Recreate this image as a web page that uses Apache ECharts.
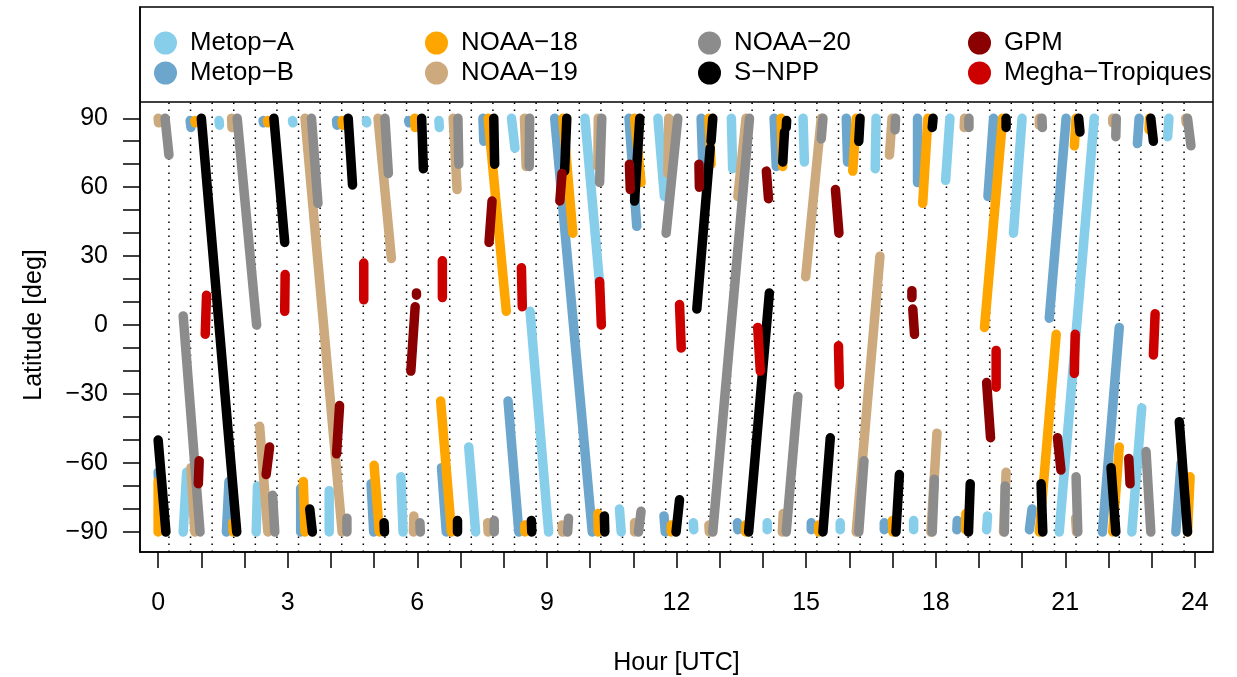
<!DOCTYPE html>
<html>
<head>
<meta charset="utf-8">
<title>Satellite overpasses</title>
<script src="https://cdn.jsdelivr.net/npm/echarts@6/dist/echarts.min.js"></script>
<style>
  html, body { margin: 0; padding: 0; background: #fff; }
  #chart { width: 1237px; height: 677px; }
</style>
</head>
<body>
<div id="chart"></div>
<script>
// one pass per row: [hour start, lat start, hour end, lat end]
const metopA = [
  [0.58, -90, 0.66, -64], [1.41, 89, 1.42, 87], [2.27, -90, 2.30, -70], [3.11, 89, 3.12, 88],
  [3.96, -90, 3.96, -72], [4.82, 89, 4.83, 88], [5.62, -66, 5.67, -90], [6.50, 89, 6.51, 86],
  [7.19, -53, 7.35, -90], [8.18, 90, 8.26, 77], [8.61, 6, 9.04, -90], [9.88, 90, 10.22, 18],
  [10.68, -80, 10.72, -90], [11.57, 90, 11.72, 56], [12.39, -86, 12.40, -89], [13.27, 90, 13.30, 68],
  [14.10, -86, 14.10, -89], [14.93, 90, 14.96, 71], [15.79, -86, 15.79, -89], [16.62, 90, 16.60, 68],
  [17.49, -85, 17.49, -89], [18.23, 63, 18.33, 90], [19.18, -89, 19.20, -83], [19.80, 40, 20.00, 90],
  [20.86, -90, 21.67, 90], [22.54, -90, 22.77, -36], [23.37, 82, 23.40, 90]
];
const metopB = [
  [0.00, -64, 0.02, -70], [0.74, 89, 0.76, 86], [1.64, -68, 1.58, -90], [2.43, 89, 2.44, 88],
  [3.30, -71, 3.30, -90], [4.13, 89, 4.14, 87], [4.93, -69, 4.99, -90], [5.80, 89, 5.81, 88],
  [6.56, -62, 6.67, -90], [7.52, 90, 7.54, 80], [8.10, -33, 8.35, -90], [9.18, 90, 10.05, -90],
  [10.90, 90, 11.08, 43], [11.71, -83, 11.74, -90], [12.57, 90, 12.61, 69], [13.41, -86, 13.42, -89],
  [14.26, 90, 14.31, 69], [15.12, -86, 15.12, -89], [15.93, 90, 15.96, 71], [16.81, -86, 16.81, -89],
  [17.58, 90, 17.58, 62], [18.50, -85, 18.49, -89], [19.21, 56, 19.34, 90], [20.17, -89, 20.23, -80],
  [20.63, 3, 21.02, 90], [21.86, -90, 22.25, -1], [22.67, 79, 22.71, 90], [23.56, -90, 23.68, -60]
];
const noaa18 = [
  [0.00, -68, 0.00, -90], [0.85, 89, 0.86, 88], [1.73, -86, 1.74, -90], [2.53, 89, 2.54, 88],
  [3.36, -68, 3.40, -90], [4.26, 89, 4.27, 87], [5.00, -61, 5.12, -90], [5.94, 90, 5.95, 86],
  [6.54, -33, 6.79, -90], [7.64, 90, 8.06, 6], [8.49, -87, 8.49, -90], [9.37, 90, 9.60, 40],
  [10.18, -82, 10.19, -90], [11.03, 90, 11.18, 62], [11.88, -87, 11.88, -90], [12.75, 90, 12.80, 70],
  [13.60, -87, 13.60, -90], [14.42, 90, 14.46, 69], [15.29, -87, 15.29, -90], [16.16, 90, 16.08, 67],
  [17.00, -85, 17.01, -90], [17.82, 90, 17.70, 53], [18.69, -89, 18.70, -82], [19.13, -1, 19.55, 90],
  [20.40, -90, 20.79, -4], [21.21, 78, 21.25, 90], [22.10, -90, 22.25, -53], [22.95, 90, 22.94, 85],
  [23.83, -90, 23.89, -66]
];
const noaa19 = [
  [0.00, 90, 0.01, 88], [0.76, -62, 0.85, -90], [1.70, 90, 1.71, 86], [2.35, -44, 2.54, -90],
  [3.40, 90, 4.26, -90], [5.09, 90, 5.40, 29], [5.92, -83, 5.91, -90], [6.83, 90, 6.92, 59],
  [7.63, -86, 7.64, -90], [8.48, 90, 8.52, 69], [9.35, -87, 9.36, -90], [10.19, 90, 10.18, 69],
  [11.03, -86, 11.03, -90], [11.82, 90, 11.80, 66], [12.75, -87, 12.76, -90], [13.42, 56, 13.61, 90],
  [14.47, -82, 14.45, -90], [14.99, 21, 15.35, 90], [16.16, -90, 16.71, 30], [16.99, 90, 16.93, 74],
  [17.89, -90, 18.03, -47], [18.67, 90, 18.66, 86], [19.57, -90, 19.63, -64], [20.40, 90, 20.40, 87],
  [21.24, -84, 21.26, -90], [22.10, 90, 22.10, 88], [23.79, 90, 23.80, 88]
];
const noaa20 = [
  [0.16, 90, 0.25, 74], [0.58, 4, 0.97, -90], [1.83, 90, 2.28, 0], [2.65, -74, 2.70, -90],
  [3.55, 90, 3.70, 53], [4.37, -84, 4.37, -90], [5.25, 90, 5.33, 66], [6.06, -86, 6.07, -90],
  [6.94, 90, 6.96, 70], [7.78, -85, 7.78, -90], [8.60, 90, 8.59, 69], [9.50, -84, 9.48, -90],
  [10.27, 90, 10.22, 62], [11.18, -81, 11.12, -90], [11.76, 40, 12.03, 90], [12.84, -90, 13.69, 90],
  [14.54, -90, 14.81, -31], [15.39, 90, 15.35, 81], [16.22, -90, 16.34, -59], [17.07, 90, 17.06, 85],
  [17.92, -90, 17.97, -67], [18.77, 90, 18.77, 86], [19.59, -90, 19.61, -70], [20.46, 90, 20.47, 86],
  [21.25, -66, 21.29, -90], [22.18, 90, 22.17, 82], [22.87, -55, 22.98, -90], [23.83, 90, 23.91, 78]
];
const snpp = [
  [0.00, -50, 0.18, -90], [1.00, 90, 1.82, -90], [2.68, 90, 2.93, 36], [3.51, -80, 3.57, -90],
  [4.40, 90, 4.50, 61], [5.23, -86, 5.24, -90], [6.10, 90, 6.14, 68], [6.93, -85, 6.93, -90],
  [7.77, 90, 7.79, 70], [8.64, -85, 8.65, -90], [9.46, 90, 9.41, 67], [10.33, -83, 10.34, -90],
  [11.15, 90, 11.03, 54], [12.07, -76, 11.99, -90], [12.47, 7, 12.78, 77], [12.84, 90, 12.80, 80],
  [13.67, -90, 14.15, 14], [14.55, 89, 14.54, 86], [14.50, 84, 14.46, 71], [15.39, -90, 15.56, -49],
  [16.25, 90, 16.22, 80], [17.08, -90, 17.16, -65], [17.94, 90, 17.92, 86], [18.76, -90, 18.80, -69],
  [19.63, 90, 19.63, 86], [20.48, -90, 20.44, -69], [21.31, 90, 21.34, 84], [22.06, -62, 22.17, -90],
  [22.98, 90, 23.04, 80], [23.64, -42, 23.83, -90]
];
const gpm = [
  [0.95, -59, 0.93, -69], [2.58, -53, 2.50, -65], [4.20, -35, 4.13, -56], [5.98, 14, 5.98, 13],
  [5.95, 8, 5.85, -20], [7.73, 54, 7.66, 36], [9.35, 66, 9.30, 54], [10.91, 70, 10.93, 59],
  [12.52, 70, 12.53, 60], [14.08, 67, 14.13, 55], [15.68, 59, 15.76, 40], [17.45, 15, 17.45, 12],
  [17.47, 7, 17.51, -4], [19.18, -25, 19.27, -49], [20.82, -49, 20.90, -63], [22.47, -58, 22.50, -69]
];
const megha = [
  [1.12, 13, 1.09, -4], [2.94, 22, 2.93, 6], [4.76, 27, 4.76, 11], [6.58, 28, 6.58, 12],
  [8.41, 25, 8.43, 8], [10.22, 19, 10.26, 0], [12.07, 9, 12.11, -10], [13.88, -1, 13.94, -20],
  [15.75, -9, 15.77, -26], [19.40, -11, 19.40, -27], [21.21, -21, 21.23, -4], [23.04, -13, 23.08, 5]
];

const satNames = ['Metop-A', 'Metop-B', 'NOAA-18', 'NOAA-19', 'NOAA-20', 'S-NPP', 'GPM', 'Megha-Tropiques'];
const satPasses = [metopA, metopB, noaa18, noaa19, noaa20, snpp, gpm, megha];
const satColors = ['#87CEEB', '#6CA6CD', '#FFA500', '#CDAA7D', '#8C8C8C', '#000000', '#8B0000', '#CD0000'];

const hourTicks = [0, 1, 2, 3, 4, 5, 6, 7, 8, 9, 10, 11, 12, 13, 14, 15, 16, 17, 18, 19, 20, 21, 22, 23, 24];
const hourLabels = [0, 3, 6, 9, 12, 15, 18, 21, 24];
const latTicks = [-90, -80, -70, -60, -50, -40, -30, -20, -10, 0, 10, 20, 30, 40, 50, 60, 70, 80, 90];
const latLabels = [-90, -60, -30, 0, 30, 60, 90];
// dotted guides every half hour, offset by a quarter hour
const guideHours = Array.from({ length: 48 }, (_, i) => 0.25 + i * 0.5);

const yMin = -98.7, yMax = 138.4, legendLine = 97;
const font = 'Liberation Sans, Arial, Helvetica, sans-serif';
const minus = s => String(s).replace('-', '\u2212');

// break the polyline between passes
function passData(passes) {
  const out = [];
  passes.forEach(p => {
    out.push([p[0], p[1]], [p[2], p[3]], [p[2], '-']);
  });
  return out;
}

const guideData = [];
guideHours.forEach(h => {
  guideData.push([h, yMin], [h, legendLine], [h, '-']);
});

const chart = echarts.init(document.getElementById('chart'), null, { renderer: 'canvas' });

const legendLeft = [154, 425, 698, 968];
const legendTop = [30, 60];
const legends = satNames.map((name, i) => ({
  data: [name],
  left: legendLeft[Math.floor(i / 2)],
  top: legendTop[i % 2],
  padding: 0,
  icon: 'circle',
  itemWidth: 23,
  itemHeight: 23,
  itemGap: 0,
  selectedMode: true,
  formatter: minus,
  textStyle: { fontSize: 25.8, color: '#000', fontFamily: font, padding: [0, 0, 0, 8] }
}));

const series = [{
  name: 'guides',
  type: 'line',
  data: guideData,
  symbol: 'none',
  silent: true,
  animation: false,
  lineStyle: { color: '#000', width: 1.5, type: [1.5, 5.5] },
  markLine: {
    silent: true,
    symbol: 'none',
    animation: false,
    label: { show: false },
    lineStyle: { color: '#000', width: 1.5, type: 'solid' },
    data: [{ yAxis: legendLine }]
  }
}];
satNames.forEach((name, i) => {
  series.push({
    name: name,
    type: 'line',
    data: passData(satPasses[i]),
    symbol: 'none',
    showSymbol: false,
    animation: false,
    itemStyle: { color: satColors[i] },
    lineStyle: { color: satColors[i], width: 9.5, cap: 'round', join: 'round' }
  });
});

const option = {
  backgroundColor: '#fff',
  textStyle: { fontFamily: font },
  animation: false,
  grid: {
    show: true, borderColor: '#000', borderWidth: 1.5,
    left: 140, top: 7, width: 1073, height: 545,
    outerBoundsMode: 'none'
  },
  legend: legends,
  xAxis: {
    type: 'value',
    min: -0.42,
    max: 24.42,
    name: 'Hour [UTC]',
    nameLocation: 'middle',
    nameGap: 99,
    nameTextStyle: { fontSize: 25, color: '#000', fontFamily: font },
    axisLine: { show: true, onZero: false, lineStyle: { color: '#000', width: 1.5 } },
    axisTick: { show: true, customValues: hourTicks, length: 16, lineStyle: { color: '#000', width: 1.5 } },
    axisLabel: { customValues: hourLabels, fontSize: 25, color: '#000', margin: 39, fontFamily: font },
    splitLine: { show: false }
  },
  yAxis: {
    type: 'value',
    min: yMin,
    max: yMax,
    axisLine: { show: true, onZero: false, lineStyle: { color: '#000', width: 1.5 } },
    axisTick: { show: true, customValues: latTicks, length: 17, lineStyle: { color: '#000', width: 1.5 } },
    axisLabel: { customValues: latLabels, fontSize: 25, color: '#000', margin: 32, formatter: minus, fontFamily: font },
    splitLine: { show: false }
  },
  graphic: [{
    type: 'text',
    x: 34,
    y: 325,
    rotation: Math.PI / 2,
    style: {
      text: 'Latitude [deg]',
      fontSize: 25,
      fontFamily: font,
      fill: '#000',
      align: 'center',
      verticalAlign: 'middle',
      textAlign: 'center',
      textVerticalAlign: 'middle'
    }
  }],
  series: series
};

chart.setOption(option);
</script>
</body>
</html>
